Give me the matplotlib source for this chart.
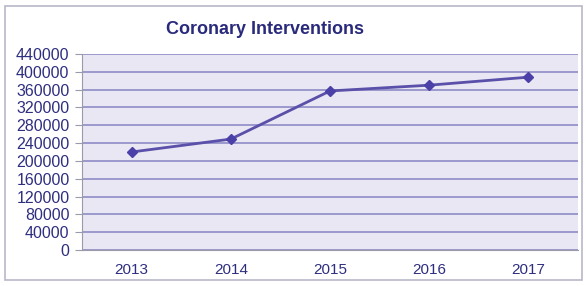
import matplotlib
matplotlib.use("Agg")
import matplotlib.pyplot as plt
from matplotlib.patches import Rectangle

years = ["2013", "2014", "2015", "2016", "2017"]
values = [220000, 249000, 357000, 370000, 388000]
yticks = list(range(0, 440001, 40000))

fig = plt.figure(figsize=(5.86, 2.86), dpi=100)
fig.patch.set_facecolor("white")
fig.patches.append(Rectangle((5 / 586, 6 / 286), 577 / 586, 274 / 286,
                             transform=fig.transFigure, fill=False,
                             edgecolor="#b8b8c8", linewidth=1.2))

ax = fig.add_axes([82 / 586, 36 / 286, 496 / 586, 196 / 286])
ax.set_facecolor("#e9e7f3")
x = range(len(years))
ax.plot(x, values, color="#5a50aa", linewidth=2, marker="D", markersize=5,
        markerfacecolor="#4b3fa8", markeredgecolor="#4b3fa8")

ax.set_xlim(-0.5, len(years) - 0.5)
ax.set_ylim(0, 440000)
ax.set_yticks(yticks)
ax.set_yticklabels([str(v) for v in yticks])
ax.set_xticks(list(x))
ax.set_xticklabels(years)
ax.grid(axis="y", color="#8e8cc6", linewidth=1.2)
ax.set_axisbelow(True)
for s in ["top", "right"]:
    ax.spines[s].set_visible(False)
ax.spines["left"].set_color("#9a9aa8")
ax.spines["bottom"].set_color("#9a9aa8")
ax.tick_params(axis="y", colors="#9a9aa8", labelcolor="#2e2e80", labelsize=11.5,
               length=5, pad=4)
ax.tick_params(axis="x", colors="#9a9aa8", labelcolor="#2e2e80", labelsize=11,
               length=0, pad=9)
for lbl in ax.get_yticklabels() + ax.get_xticklabels():
    lbl.set_fontfamily("Liberation Sans")

fig.text(265 / 586, 1 - 29 / 286, "Coronary Interventions", ha="center",
         va="center", fontsize=13, fontweight="bold", color="#2a2a7c",
         family="Liberation Sans")

plt.savefig("out.png", dpi=100)
